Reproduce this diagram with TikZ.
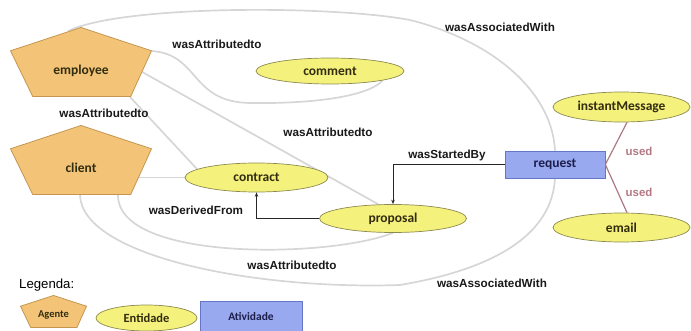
\documentclass[tikz,border=0pt]{standalone}
\usepackage{fontspec}
\setmainfont{Liberation Sans}
\newfontfamily\carlito{Carlito}
\usetikzlibrary{shapes.geometric,arrows.meta,calc,backgrounds}

\definecolor{agentfill}{RGB}{243,196,120}
\definecolor{agentline}{RGB}{196,150,80}
\definecolor{entfill}{RGB}{245,241,125}
\definecolor{entline}{RGB}{140,138,80}
\definecolor{actfill}{RGB}{152,169,240}
\definecolor{actline}{RGB}{100,118,200}
\definecolor{nodetext}{RGB}{50,45,15}
\definecolor{acttext}{RGB}{30,30,75}
\definecolor{usedcol}{RGB}{180,120,132}
\definecolor{relgray}{RGB}{214,214,214}

\tikzset{
  agente/.style={minimum width=142pt, minimum height=70pt, inner sep=0pt,
    text height=26pt, text depth=0pt, text=nodetext,
    font=\carlito\bfseries\fontsize{13.5}{14}\selectfont,
    path picture={
      \filldraw[fill=agentfill, draw=agentline, line width=.8pt]
        ($(path picture bounding box.north)+(0pt,-.5pt)$)
        -- ($(path picture bounding box.north east)!.34!(path picture bounding box.south east)+(-.5pt,0pt)$)
        -- ($(path picture bounding box.south east)!.15!(path picture bounding box.south west)+(0pt,.5pt)$)
        -- ($(path picture bounding box.south west)!.16!(path picture bounding box.south east)+(0pt,.5pt)$)
        -- ($(path picture bounding box.north west)!.34!(path picture bounding box.south west)+(.5pt,0pt)$)
        -- cycle;}},
  entidade/.style={ellipse, draw=entline, fill=entfill, line width=.7pt, inner sep=0pt,
    text=nodetext, font=\carlito\bfseries\fontsize{13.5}{14}\selectfont},
  atividade/.style={rectangle, draw=actline, fill=actfill, line width=.7pt,
    minimum width=100pt, minimum height=27pt, inner sep=0pt,
    text=acttext, font=\carlito\bfseries\fontsize{13.5}{14}\selectfont},
  rel/.style={draw=relgray, line width=1.7pt},
  tie/.style={draw=black!85, line width=1pt, -{Stealth[length=4.5pt,width=3.5pt]}},
  usedline/.style={draw=usedcol!85!gray, line width=1.2pt},
  rellabel/.style={font=\bfseries\fontsize{11.7}{12}\selectfont, text=black!90},
  usedlabel/.style={font=\bfseries\fontsize{11.5}{12}\selectfont, text=usedcol}
}

\begin{document}
\begin{tikzpicture}[x=1pt, y=-1pt]
  \useasboundingbox (0,0) rectangle (691,331);

  \node[agente] (employee) at (81,62) {employee};
  \node[agente] (client) at (81,160) {client};
  \node[entidade, minimum width=148pt, minimum height=26pt] (comment) at (330,71) {comment};
  \node[entidade, minimum width=143pt, minimum height=29pt] (contract) at (256.5,177.5) {contract};
  \node[entidade, minimum width=147pt, minimum height=28pt] (proposal) at (393,218.5) {proposal};
  \node[atividade] (request) at (555,164.5) {request};
  \node[entidade, minimum width=137pt, minimum height=30pt] (instantMessage) at (621.5,107) {instantMessage};
  \node[entidade, minimum width=137pt, minimum height=29pt] (email) at (621.5,227.5) {email};

  \begin{scope}[on background layer]
    \draw[rel] ([yshift=11pt]employee.east) .. controls (200,55) and (190,102) .. (250,103)
      .. controls (320,104) and (370,95) .. (comment.south east);
    \draw[rel] ([xshift=-10pt,yshift=-10pt]employee.east) -- ([xshift=-15pt]proposal.north);
    \draw[rel] ([xshift=-22pt]employee.south east) -- (contract.172);
    \draw[rel] ([xshift=-13pt,yshift=-4.4pt]employee.north) .. controls (120,5) and (330,5) .. (410,20)
      .. controls (490,40) and (552,90) .. (request.north);
    \draw[rel] ($(client.east |- contract.west)+(-15pt,0pt)$) -- (contract.west);
    \draw[rel] ([xshift=37pt]client.south) .. controls (118,262) and (330,258) .. (proposal.south);
    \draw[rel] ([xshift=-1pt]client.south) .. controls (82,255) and (250,290) .. (400,285)
      .. controls (500,268) and (552,232) .. (request.south);
  \end{scope}

  \draw[tie] (request.west) -| (proposal.north);
  \draw[tie] (proposal.west) -| (contract.south);
  \draw[usedline] ([xshift=5.5pt]instantMessage.south) -- (request.east);
  \draw[usedline] (request.east) -- ([xshift=5.5pt]email.north);

  \node[rellabel] (attrTop) at (217,44) {wasAttributedto};
  \node[rellabel] (attrLeft) at (104,113) {wasAttributedto};
  \node[rellabel] (attrMid) at (328,132) {wasAttributedto};
  \node[rellabel] (attrBottom) at (292,265) {wasAttributedto};
  \node[rellabel] (derived) at (196,210) {wasDerivedFrom};
  \node[rellabel] (started) at (447,155) {wasStartedBy};
  \node[rellabel] (assocTop) at (500,27) {wasAssociatedWith};
  \node[rellabel] (assocBottom) at (492,283) {wasAssociatedWith};
  \node[usedlabel] (usedTop) at (639,151) {used};
  \node[usedlabel] (usedBottom) at (639,192) {used};

  \node[anchor=west, inner sep=0pt, font=\fontsize{13.2}{14}\selectfont] (legenda) at (19,285) {Legenda:};
  \node[agente, minimum width=67pt, minimum height=33pt, text height=12pt,
    font=\carlito\bfseries\fontsize{10.5}{11}\selectfont] (agente) at (53.5,311.5) {Agente};
  \node[entidade, minimum width=101pt, minimum height=26pt,
    font=\carlito\bfseries\fontsize{12.5}{13}\selectfont] (entidade) at (146.5,318) {Entidade};
  \node[atividade, minimum width=102pt, minimum height=30pt,
    font=\carlito\bfseries\fontsize{11.5}{12}\selectfont] (atividade) at (251,316.5) {Atividade};
\end{tikzpicture}
\end{document}
